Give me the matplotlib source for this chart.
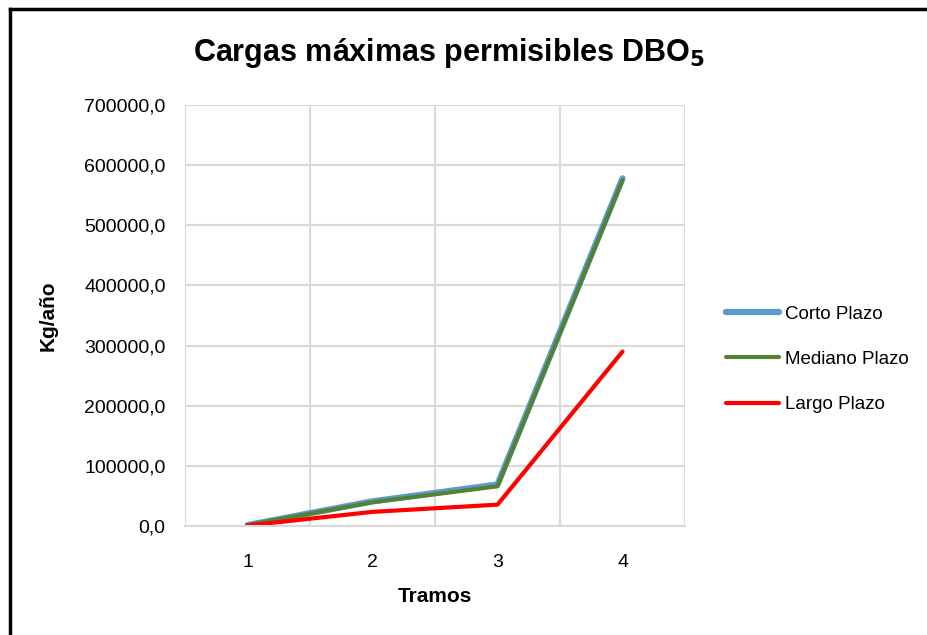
import matplotlib.pyplot as plt
from matplotlib.lines import Line2D
from matplotlib.ticker import FuncFormatter

plt.rcParams['font.family'] = ['Liberation Sans', 'DejaVu Sans']

tramos = [1, 2, 3, 4]
corto_plazo = [1500, 41000, 69000, 578000]
mediano_plazo = [1500, 39500, 66000, 575000]
largo_plazo = [800, 23500, 35500, 290000]

series_names = ["Corto Plazo", "Mediano Plazo", "Largo Plazo"]
y_ticks = [0, 100000, 200000, 300000, 400000, 500000, 600000, 700000]

fig = plt.figure(figsize=(9.27, 6.35), dpi=100)
ax = fig.add_axes([185 / 927, 1 - 526 / 635, 500 / 927, 421 / 635])

x = [t - 0.5 for t in tramos]
ax.plot(x, corto_plazo, color="#5b9bd5", lw=4.5, solid_capstyle="round", label=series_names[0])
ax.plot(x, mediano_plazo, color="#548235", lw=3, solid_capstyle="round", label=series_names[1])
ax.plot(x, largo_plazo, color="#ff0000", lw=3, solid_capstyle="round", label=series_names[2])

ax.set_xlim(0, 4)
ax.set_xticks([0, 1, 2, 3, 4])
ax.set_xticklabels([])
ax.set_xticks(x, minor=True)
ax.set_xticklabels([str(t) for t in tramos], minor=True)
ax.tick_params(axis="x", which="both", length=0, pad=20, labelsize=14)

ax.set_ylim(0, 700000)
ax.set_yticks(y_ticks)
ax.yaxis.set_major_formatter(FuncFormatter(lambda v, _: f"{v:.1f}".replace(".", ",")))
ax.tick_params(axis="y", length=0, pad=14, labelsize=14)

ax.grid(True, color="#d9d9d9", lw=1.5)
ax.set_axisbelow(True)
for side in ["top", "right", "left"]:
    ax.spines[side].set_visible(False)
ax.spines["bottom"].set_color("#d9d9d9")
ax.spines["bottom"].set_linewidth(1.5)

ax.set_xlabel("Tramos", fontsize=15, fontweight="bold", labelpad=12)
ax.set_ylabel("Kg/año", fontsize=15, fontweight="bold", labelpad=19)

fig.text(0.485, 0.917, r"Cargas máximas permisibles DBO$_\mathbf{5}$", ha="center", va="center",
         fontsize=22, fontweight="bold")

handles = [Line2D([], [], color="#5b9bd5", lw=4.5, solid_capstyle="round"),
           Line2D([], [], color="#548235", lw=3, solid_capstyle="round"),
           Line2D([], [], color="#ff0000", lw=3, solid_capstyle="round")]
fig.legend(handles, series_names, loc="center left", bbox_to_anchor=(0.765, 0.434),
           frameon=False, fontsize=13.5, handlelength=2.85, labelspacing=1.5, handletextpad=0.32)

# outer frame on the left and top edges
fig.add_artist(Line2D([10 / 927, 10 / 927], [0, 1 - 9 / 635], color="black", lw=2.5))
fig.add_artist(Line2D([10 / 927, 1], [1 - 9 / 635, 1 - 9 / 635], color="black", lw=2.5))

fig.savefig("out.png", dpi=100)
